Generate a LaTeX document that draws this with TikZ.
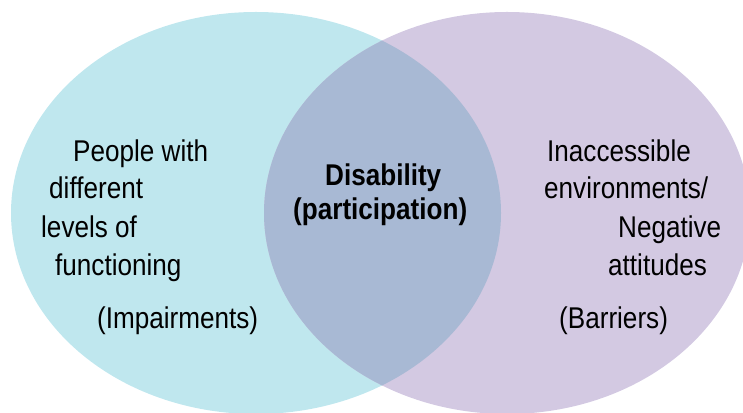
\documentclass[tikz,border=0pt]{standalone}
\usepackage{fontspec}
\setmainfont{Liberation Sans}[FakeStretch=0.87]
\usetikzlibrary{positioning}
\definecolor{impairmentColor}{HTML}{BFE7EE}
\definecolor{barrierColor}{HTML}{D3C9E2}
\definecolor{disabilityColor}{HTML}{A8B9D4}
\newcommand{\leftEllipse}{(leftCenter) ellipse [x radius=245, y radius=201]}
\newcommand{\rightEllipse}{(rightCenter) ellipse [x radius=243, y radius=201]}
\newcommand{\textLine}[3]{%%
  \node[textStyle] (#1) at (#2) {#3};
}
\begin{document}
\begin{tikzpicture}[%%
  x=1pt,y=1pt,%%
  textStyle/.style={anchor=base west,inner sep=0pt,font=\fontsize{30}{36}\selectfont},%%
  boldStyle/.style={textStyle,font=\fontsize{30}{36}\selectfont\bfseries}%%
]
%%
%% Frame of the picture.
\useasboundingbox (0,0) rectangle (743,412);
%%
%% Centres of the two ellipses.
\coordinate (leftCenter) at (256,199);
\coordinate (rightCenter) at (507,199);
%%
%% The two sets and their overlap.
\fill[impairmentColor] \leftEllipse;
\fill[barrierColor] \rightEllipse;
\begin{scope}
  \clip \leftEllipse;
  \fill[disabilityColor] \rightEllipse;
\end{scope}
%%
%% Left set: impairments.
\textLine{people}{73,250}{People with}
\textLine{different}{49,213}{different}
\textLine{levels}{41,174}{levels of}
\textLine{functioning}{55,136}{functioning}
\textLine{impairments}{97,84}{(Impairments)}
%%
%% Overlap: disability.
\node[boldStyle] (disability) at (325,226) {Disability};
\node[boldStyle] (participation) at (293,192) {(participation)};
%%
%% Right set: barriers.
\textLine{inaccessible}{547,250}{Inaccessible}
\textLine{environments}{544,213}{environments/}
\textLine{negative}{618,174}{Negative}
\textLine{attitudes}{608,136}{attitudes}
\textLine{barriers}{559,84}{(Barriers)}
\end{tikzpicture}
\end{document}
